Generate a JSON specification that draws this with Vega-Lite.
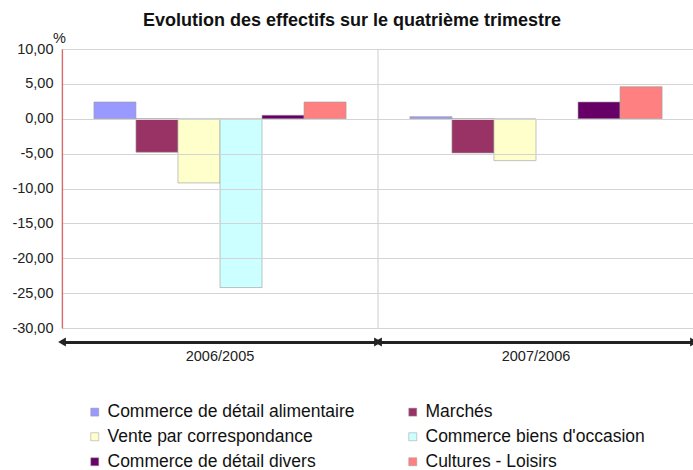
{
  "$schema": "https://vega.github.io/schema/vega-lite/v6.json",
  "autosize": {"type": "none"},
  "padding": {"left": 62, "top": 49, "right": 0, "bottom": 142},
  "width": 632,
  "height": 279,
  "title": {"text": "Evolution des effectifs sur le quatrième trimestre", "fontSize": 18, "font": "Liberation Sans", "fontWeight": "bold", "color": "#111", "anchor": "middle", "dx": -26, "offset": 0},
  "config": {
    "view": {"stroke": "#cccccc"},
    "font": "Liberation Sans",
    "axis": {"labelFont": "Liberation Sans", "labelColor": "#222", "titleFont": "Liberation Sans"}
  },
  "datasets": {
    "bars": [
      {"periode": "2006/2005", "secteur": "Commerce de détail alimentaire", "valeur": 2.4},
      {"periode": "2006/2005", "secteur": "Marchés", "valeur": -4.8},
      {"periode": "2006/2005", "secteur": "Vente par correspondance", "valeur": -9.2},
      {"periode": "2006/2005", "secteur": "Commerce biens d'occasion", "valeur": -24.2},
      {"periode": "2006/2005", "secteur": "Commerce de détail divers", "valeur": 0.5},
      {"periode": "2006/2005", "secteur": "Cultures - Loisirs", "valeur": 2.4},
      {"periode": "2007/2006", "secteur": "Commerce de détail alimentaire", "valeur": 0.3},
      {"periode": "2007/2006", "secteur": "Marchés", "valeur": -4.9},
      {"periode": "2007/2006", "secteur": "Vente par correspondance", "valeur": -6.0},
      {"periode": "2007/2006", "secteur": "Commerce de détail divers", "valeur": 2.4},
      {"periode": "2007/2006", "secteur": "Cultures - Loisirs", "valeur": 4.6}
    ],
    "periodes": [{"periode": "2006/2005"}, {"periode": "2007/2006"}]
  },
  "layer": [
    {
      "data": {"name": "periodes"},
      "mark": {"type": "rule", "color": "#cccccc", "strokeWidth": 1},
      "encoding": {
        "x": {"field": "periode", "type": "nominal", "bandPosition": 0,
              "scale": {"paddingInner": 0, "paddingOuter": 0},
              "axis": {"title": null, "orient": "bottom", "offset": 14, "domainWidth": 3, "domainColor": "#222", "ticks": false, "labelAngle": 0, "labelFontSize": 14.5, "labelPadding": 7, "grid": false}}
      }
    },
    {
      "data": {"name": "bars"},
      "mark": {"type": "bar", "stroke": "#9a9a9a", "strokeWidth": 0.6},
      "encoding": {
        "x": {"field": "periode", "type": "nominal"},
        "xOffset": {"field": "secteur", "type": "nominal",
          "scale": {"domain": ["Commerce de détail alimentaire", "Marchés", "Vente par correspondance", "Commerce biens d'occasion", "Commerce de détail divers", "Cultures - Loisirs"], "paddingInner": 0, "paddingOuter": 0.76}},
        "y": {"field": "valeur", "type": "quantitative",
          "scale": {"domain": [-30, 10], "nice": false, "zero": false},
          "axis": {"title": "%", "titleAngle": 0, "titleAlign": "center", "titleBaseline": "alphabetic", "titleX": -3, "titleY": -7, "titleFontSize": 14.5, "titleFontWeight": "normal", "titleColor": "#222",
                   "values": [-30, -25, -20, -15, -10, -5, 0, 5, 10],
                   "labelExpr": "replace(replace(format(datum.value, '.2f'), '.', ','), '\u2212', '-')",
                   "labelOverlap": false,
                   "labelFontSize": 14.5, "labelPadding": 9, "ticks": false,
                   "domainColor": "#e06666", "domainWidth": 1.2,
                   "grid": true, "gridColor": "#d4d4d4", "zindex": 1}},
        "color": {"field": "secteur", "type": "nominal",
          "scale": {"domain": ["Commerce de détail alimentaire", "Vente par correspondance", "Commerce de détail divers", "Marchés", "Commerce biens d'occasion", "Cultures - Loisirs"],
                    "range": ["#9999ff", "#ffffcc", "#660066", "#993366", "#ccffff", "#ff8080"]},
          "legend": {"title": null, "orient": "none", "legendX": 24, "legendY": 354, "columns": 2, "columnPadding": 49, "rowPadding": 6, "padding": 0,
                     "symbolType": "square", "symbolSize": 64, "symbolStrokeColor": "#999", "symbolStrokeWidth": 0.5,
                     "labelFontSize": 17.5, "labelFont": "Liberation Sans", "labelColor": "#111", "labelLimit": 400}}
      }
    },
    {
      "data": {"name": "periodes"},
      "mark": {"type": "point", "shape": "triangle-left", "filled": true, "color": "#222", "size": 80, "opacity": 1},
      "encoding": {
        "x": {"field": "periode", "type": "nominal", "bandPosition": 0},
        "y": {"datum": -32, "type": "quantitative",
          "axis": {"title": "%", "titleAngle": 0, "titleAlign": "center", "titleBaseline": "alphabetic", "titleX": -3, "titleY": -7, "titleFontSize": 14.5, "titleFontWeight": "normal", "titleColor": "#222",
                   "values": [-30, -25, -20, -15, -10, -5, 0, 5, 10],
                   "labelExpr": "replace(replace(format(datum.value, '.2f'), '.', ','), '\u2212', '-')",
                   "labelOverlap": false,
                   "labelFontSize": 14.5, "labelPadding": 9, "ticks": false,
                   "domainColor": "#e06666", "domainWidth": 1.2,
                   "grid": true, "gridColor": "#d4d4d4", "zindex": 1}}
      }
    },
    {
      "data": {"name": "periodes"},
      "mark": {"type": "point", "shape": "triangle-right", "filled": true, "color": "#222", "size": 80, "opacity": 1},
      "encoding": {
        "x": {"field": "periode", "type": "nominal", "bandPosition": 1},
        "y": {"datum": -32, "type": "quantitative",
          "axis": {"title": "%", "titleAngle": 0, "titleAlign": "center", "titleBaseline": "alphabetic", "titleX": -3, "titleY": -7, "titleFontSize": 14.5, "titleFontWeight": "normal", "titleColor": "#222",
                   "values": [-30, -25, -20, -15, -10, -5, 0, 5, 10],
                   "labelExpr": "replace(replace(format(datum.value, '.2f'), '.', ','), '\u2212', '-')",
                   "labelOverlap": false,
                   "labelFontSize": 14.5, "labelPadding": 9, "ticks": false,
                   "domainColor": "#e06666", "domainWidth": 1.2,
                   "grid": true, "gridColor": "#d4d4d4", "zindex": 1}}
      }
    }
  ]
}
